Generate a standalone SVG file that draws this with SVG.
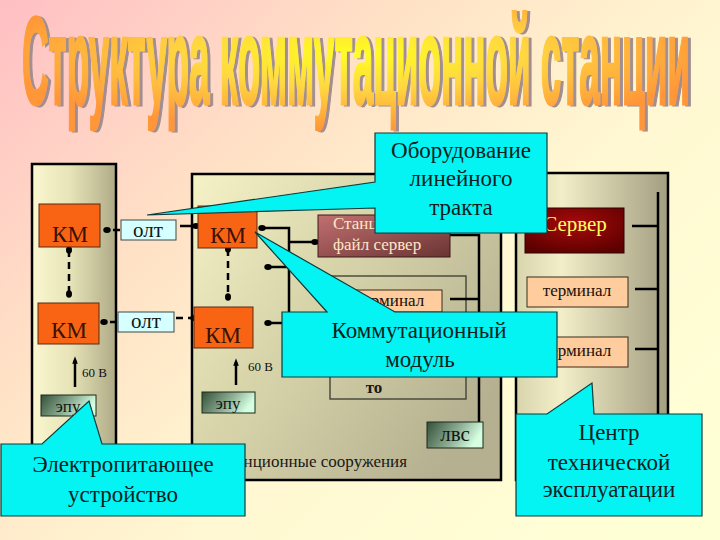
<svg xmlns="http://www.w3.org/2000/svg" width="720" height="540" viewBox="0 0 720 540">
<defs>
<linearGradient id="bg" x1="0" y1="0" x2="1" y2="0.8">
<stop offset="0" stop-color="#ffbfc4"/>
<stop offset="0.35" stop-color="#ffe2c6"/>
<stop offset="0.65" stop-color="#fff8d2"/>
<stop offset="1" stop-color="#ffffd6"/>
</linearGradient>
<radialGradient id="titleFill" cx="0.5" cy="0.45" r="0.55">
<stop offset="0" stop-color="#ffff20"/>
<stop offset="0.45" stop-color="#ffd840"/>
<stop offset="1" stop-color="#ff9638"/>
</radialGradient>
<filter id="shadow" x="-5%" y="-10%" width="110%" height="130%">
<feOffset in="SourceAlpha" dx="3" dy="1" result="off"/>
<feFlood flood-color="#a28e8e"/>
<feComposite in2="off" operator="in" result="sh"/>
<feMerge><feMergeNode in="sh"/><feMergeNode in="SourceGraphic"/></feMerge>
</filter>
<linearGradient id="contL" x1="0" y1="0" x2="1" y2="0">
<stop offset="0" stop-color="#fbf7cf"/>
<stop offset="0.45" stop-color="#e8e4b8"/>
<stop offset="1" stop-color="#aeaa86"/>
</linearGradient>
<linearGradient id="contM" x1="0" y1="0" x2="1" y2="0.7">
<stop offset="0" stop-color="#f6f2c8"/>
<stop offset="0.45" stop-color="#d8d4aa"/>
<stop offset="1" stop-color="#b4b090"/>
</linearGradient>
<linearGradient id="contR" x1="0" y1="0" x2="1" y2="0">
<stop offset="0" stop-color="#d8d4ac"/>
<stop offset="0.3" stop-color="#f2eec8"/>
<stop offset="1" stop-color="#a29e80"/>
</linearGradient>
<linearGradient id="epu" x1="0" y1="0" x2="1" y2="0.3">
<stop offset="0" stop-color="#344f38"/>
<stop offset="0.6" stop-color="#8fb096"/>
<stop offset="1" stop-color="#d6ffe2"/>
</linearGradient>
<linearGradient id="stan" x1="0" y1="0" x2="1" y2="1">
<stop offset="0" stop-color="#c27070"/>
<stop offset="1" stop-color="#6a3434"/>
</linearGradient>
<radialGradient id="server" cx="0.5" cy="0.35" r="0.7">
<stop offset="0" stop-color="#a80a0a"/>
<stop offset="1" stop-color="#5c0000"/>
</radialGradient>
<marker id="dot" viewBox="0 0 6 6" refX="3" refY="3" markerWidth="3" markerHeight="3" orient="auto">
<ellipse cx="3" cy="3" rx="3" ry="2.4" fill="#000"/>
</marker>
<marker id="arr" viewBox="0 0 8 8" refX="4" refY="4" markerWidth="3" markerHeight="3" orient="auto">
<path d="M0,1 L8,4 L0,7 Z" fill="#000"/>
</marker>
</defs>
<style>
.cont{stroke:#000;stroke-width:2.5}
.km{fill:#f86414;stroke:#5a2a10;stroke-width:1}
.kmt{font-family:"Liberation Serif",serif;font-size:23px;fill:#3a1206;text-anchor:middle}
.olt{fill:#d6ffff;stroke:#3a4a4a;stroke-width:1}
.oltt{font-family:"Liberation Serif",serif;font-size:21px;fill:#101818;text-anchor:middle}
.epu{fill:url(#epu);stroke:#1a2a1a;stroke-width:1}
.epit{font-family:"Liberation Serif",serif;font-size:17px;fill:#101810;text-anchor:middle}
.term{fill:#ffcc9e;stroke:#3a2a1a;stroke-width:1}
.termt{font-family:"Liberation Serif",serif;font-size:17px;fill:#201008;text-anchor:middle}
.small{font-family:"Liberation Serif",serif;font-size:13px;fill:#101010}
.label{font-family:"Liberation Serif",serif;font-size:17px;fill:#181818}
.conn{fill:none;stroke:#000;stroke-width:2.5}
.dash{stroke-dasharray:7 5}
.callout{fill:#04f4f4;stroke:#0d3a3a;stroke-width:1.2}
.ct{font-family:"Liberation Serif",serif;font-size:23px;fill:#0a1e1e;text-anchor:middle}
</style>
<rect x="0" y="0" width="720" height="540" fill="url(#bg)"/>
<g id="title" filter="url(#shadow)">
<text x="22" y="30.4" transform="scale(1,3.42)" font-family="'Liberation Sans Narrow','Liberation Sans',sans-serif" font-weight="bold" font-size="36.5" textLength="668" lengthAdjust="spacingAndGlyphs" fill="url(#titleFill)" stroke="url(#titleFill)" stroke-width="0.9">Структура коммутационной станции</text>
</g>
<g id="container-left"><rect class="cont" x="32" y="164" width="84" height="306" fill="url(#contL)"/></g>
<g id="container-middle"><rect class="cont" x="192" y="174" width="309" height="306" fill="url(#contM)"/></g>
<g id="container-right"><rect class="cont" x="516" y="173" width="152" height="307" fill="url(#contR)"/></g>
<g id="to-frame"><rect x="330" y="276" width="136" height="123" fill="none" stroke="#3a3a30" stroke-width="1.3"/>
<text x="374" y="393" font-family="'Liberation Serif',serif" font-size="17" font-weight="bold" fill="#181818" text-anchor="middle">то</text></g>
<g id="connectors">
<path class="conn dash" d="M69,250 V294" marker-start="url(#dot)" marker-end="url(#dot)"/>
<path class="conn dash" d="M228,249 V297" marker-start="url(#dot)" marker-end="url(#dot)"/>
<path class="conn dash" d="M120,230 H107" marker-end="url(#dot)"/>
<path class="conn" d="M180,226 H196" marker-end="url(#dot)"/>
<path class="conn dash" d="M117,322 H104" marker-end="url(#dot)"/>
<path class="conn dash" d="M176,318 H194" marker-end="url(#dot)"/>
<path class="conn" d="M289,330 V228 H262" marker-end="url(#dot)"/>
<path class="conn" d="M289,242 H315" marker-end="url(#dot)"/>
<path class="conn" d="M289,267 H268" marker-end="url(#dot)"/>
<path class="conn" d="M289,323 H268" marker-end="url(#dot)"/>
<path class="conn" d="M450,235 H479 V422"/>
<path class="conn" d="M450,299 H479"/>
<path class="conn" d="M658,192 V470"/>
<path class="conn" d="M632,226 H658"/>
<path class="conn" d="M635,289 H658"/>
<path class="conn" d="M635,349 H658"/>
<path class="conn" d="M75,387 V360" marker-end="url(#arr)"/>
<path class="conn" d="M236,385 V362" marker-end="url(#arr)"/>
</g>
<g id="km1"><rect class="km" x="39" y="204" width="61" height="43"/><text class="kmt" x="70" y="242">КМ</text></g>
<g id="km2"><rect class="km" x="38" y="303" width="61" height="41"/><text class="kmt" x="69" y="338">КМ</text></g>
<g id="km3"><rect class="km" x="198" y="206" width="59" height="42"/><text class="kmt" x="228" y="243">КМ</text></g>
<g id="km4"><rect class="km" x="194" y="307" width="59" height="41"/><text class="kmt" x="223" y="343">КМ</text></g>
<g id="olt1"><rect class="olt" x="121" y="220" width="55" height="20"/><text class="oltt" x="148" y="237">олт</text></g>
<g id="olt2"><rect class="olt" x="118" y="312" width="56" height="20"/><text class="oltt" x="146" y="328">олт</text></g>
<g id="v60-left"><text class="small" x="82" y="377">60 В</text></g>
<g id="v60-mid"><text class="small" x="248" y="371">60 В</text></g>
<g id="epu-left"><rect class="epu" x="41" y="395" width="55" height="21"/><text class="epit" x="68" y="412">эпу</text></g>
<g id="epu-mid"><rect class="epu" x="202" y="392" width="53" height="21"/><text class="epit" x="228" y="409">эпу</text></g>
<g id="stan-server"><rect x="318" y="215" width="132" height="42" fill="url(#stan)" stroke="#3a1a1a" stroke-width="1"/>
<text x="333" y="229" font-family="'Liberation Serif',serif" font-size="17" fill="#ffe6c4">Станционный</text>
<text x="333" y="250" font-family="'Liberation Serif',serif" font-size="17" fill="#ffe6c4">файл сервер</text></g>
<g id="term-mid"><rect class="term" x="340" y="290" width="102" height="22"/><text class="termt" x="390" y="306">терминал</text></g>
<g id="lvs"><rect class="epu" x="427" y="422" width="56" height="26"/><text x="455" y="441" font-family="'Liberation Serif',serif" font-size="21" fill="#101810" text-anchor="middle">лвс</text></g>
<g id="station-label"><text class="label" x="407" y="467" text-anchor="end">Станционные сооружения</text></g>
<g id="server"><rect x="525" y="208" width="99" height="45" fill="url(#server)" stroke="#300000" stroke-width="1"/><text x="575" y="231" font-family="'Liberation Serif',serif" font-size="21" fill="#ffff60" text-anchor="middle">Сервер</text></g>
<g id="term-r1"><rect class="term" x="527" y="277" width="101" height="30"/><text class="termt" x="577" y="296">терминал</text></g>
<g id="term-r2"><rect class="term" x="527" y="337" width="101" height="30"/><text class="termt" x="577" y="356">терминал</text></g>
<g id="callout-olt">
<path class="callout" d="M375,133 H547 V233 H375 V208 L147,215 L375,182 Z"/>
<text class="ct" x="461" y="158">Оборудование</text>
<text class="ct" x="461" y="186">линейного</text>
<text class="ct" x="461" y="215">тракта</text>
</g>
<g id="callout-km">
<path class="callout" d="M282,312 H327 L255,232 L395,312 H557 V377 H282 Z"/>
<text class="ct" x="419" y="338">Коммутационный</text>
<text class="ct" x="420" y="367">модуль</text>
</g>
<g id="callout-epu">
<path class="callout" d="M1,444 H42 L89,401 L102,444 H245 V516 H1 Z"/>
<text class="ct" x="123" y="472">Электропитающее</text>
<text class="ct" x="123" y="502">устройство</text>
</g>
<g id="callout-cte">
<path class="callout" d="M516,414 H547 L592,383 L594,414 H702 V516 H516 Z"/>
<text class="ct" x="609" y="440">Центр</text>
<text class="ct" x="609" y="470">технической</text>
<text class="ct" x="609" y="497">эксплуатации</text>
</g>
</svg>
